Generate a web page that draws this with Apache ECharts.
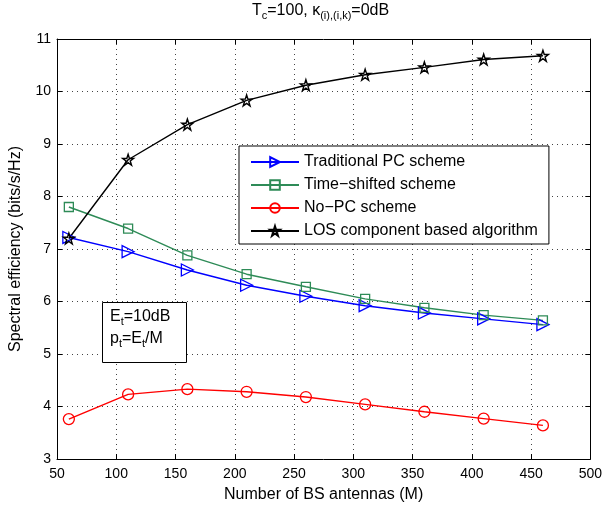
<!DOCTYPE html>
<html>
<head>
<meta charset="utf-8">
<script src="https://cdn.jsdelivr.net/npm/echarts@6/dist/echarts.min.js"></script>
<style>html,body{margin:0;padding:0;background:#fff}#c{width:605px;height:508px}</style>
</head>
<body>
<div id="c"></div>
<script>
const antennas = [60, 110, 160, 210, 260, 310, 360, 410, 460];
const traditionalPC = [7.22, 6.95, 6.60, 6.31, 6.10, 5.92, 5.78, 5.67, 5.56];
const timeShifted = [7.80, 7.39, 6.88, 6.52, 6.28, 6.05, 5.88, 5.74, 5.64];
const noPC = [3.76, 4.23, 4.33, 4.28, 4.18, 4.04, 3.90, 3.77, 3.64];
const losBased = [7.20, 8.70, 9.37, 9.83, 10.12, 10.32, 10.46, 10.61, 10.68];
const seriesNames = ['Traditional PC scheme', 'Time\u2212shifted scheme', 'No\u2212PC scheme', 'LOS component based algorithm'];
const xTicks = {min: 50, max: 500, step: 50};
const yTicks = {min: 3, max: 11, step: 1};

const FONT = '"Liberation Sans", Arial, Helvetica, sans-serif';
const star = 'path://M50,0 L61.8,35.4 L99,35.4 L69,57.3 L80.4,92.7 L50,70.8 L19.6,92.7 L31,57.3 L1,35.4 L38.2,35.4 Z';

function pairs(ys){ return antennas.map((x,i)=>[x, ys[i]]); }

const chart = echarts.init(document.getElementById('c'), null, {renderer:'canvas'});
const axisCommon = {
  axisLine: {show: true, onZero: false, lineStyle: {color: '#000', width: 1}},
  axisTick: {show: true, inside: true, length: 5, lineStyle: {color: '#000'}},
};
const subRich = {sub: {fontSize: 11, fontFamily: FONT, padding: [9,0,0,0]}};
chart.setOption({
  backgroundColor: '#fff',
  animation: false,
  textStyle: {fontFamily: FONT},
  grid: {left: 56, right: 14, top: 39, bottom: 47, show: false},
  xAxis: [
    Object.assign({}, axisCommon, {
      type: 'value', min: xTicks.min, max: xTicks.max, interval: xTicks.step, position: 'bottom',
      axisLabel: {color: '#000', fontSize: 14, fontFamily: FONT, margin: 8},
      splitLine: {show: true, lineStyle: {color: '#444', type: [1, 4], width: 1}},
      name: 'Number of BS antennas (M)', nameLocation: 'middle', nameGap: 28,
      nameTextStyle: {color: '#000', fontSize: 16, fontFamily: FONT}
    }),
    Object.assign({}, axisCommon, {
      type: 'value', min: xTicks.min, max: xTicks.max, interval: xTicks.step, position: 'top',
      axisLabel: {show: false}, splitLine: {show: false}
    })
  ],
  yAxis: [
    Object.assign({}, axisCommon, {
      type: 'value', min: yTicks.min, max: yTicks.max, interval: yTicks.step, position: 'left',
      axisLabel: {color: '#000', fontSize: 14, fontFamily: FONT, margin: 6},
      splitLine: {show: true, lineStyle: {color: '#444', type: [1, 4], width: 1}},
      name: 'Spectral efficiency (bits/s/Hz)', nameLocation: 'middle', nameGap: 33,
      nameTextStyle: {color: '#000', fontSize: 16, fontFamily: FONT}
    }),
    Object.assign({}, axisCommon, {
      type: 'value', min: yTicks.min, max: yTicks.max, interval: yTicks.step, position: 'right',
      axisLabel: {show: false}, splitLine: {show: false}
    })
  ],
  legend: {
    orient: 'vertical', left: 239, top: 146,
    backgroundColor: '#fff', borderColor: '#000', borderWidth: 1,
    padding: [8, 11, 5, 11],
    itemWidth: 48, itemHeight: 12, itemGap: 7,
    textStyle: {color: '#000', fontSize: 16, fontFamily: FONT},
    data: seriesNames
  },
  graphic: [
    {type: 'text', left: 252, top: 3, z: 100,
     style: {text: 'T{sub|c}=100, \u03ba{sub|(i),(i,k)}=0dB', font: '16px ' + FONT, fill: '#000', rich: subRich}},
    {type: 'rect', shape: {x: 102.5, y: 302.5, width: 84, height: 60}, z: 50,
     style: {fill: '#fff', stroke: '#000', lineWidth: 1}},
    {type: 'text', x: 110, y: 307, z: 60,
     style: {text: 'E{sub|t}=10dB', font: '16px ' + FONT, fill: '#000', rich: subRich}},
    {type: 'text', x: 110, y: 329, z: 60,
     style: {text: 'p{sub|t}=E{sub|t}/M', font: '16px ' + FONT, fill: '#000', rich: subRich}}
  ],
  series: [
    {name: seriesNames[0], type: 'line', data: pairs(traditionalPC),
     symbol: 'triangle', symbolSize: 12, symbolRotate: -90,
     lineStyle: {color: '#0000ff', width: 1.4},
     itemStyle: {color: 'rgba(255,255,255,0)', borderColor: '#0000ff', borderWidth: 1.3}},
    {name: seriesNames[1], type: 'line', data: pairs(timeShifted),
     symbol: 'rect', symbolSize: 9,
     lineStyle: {color: '#2e8b57', width: 1.4},
     itemStyle: {color: 'rgba(255,255,255,0)', borderColor: '#2e8b57', borderWidth: 1.3}},
    {name: seriesNames[2], type: 'line', data: pairs(noPC),
     symbol: 'circle', symbolSize: 11,
     lineStyle: {color: '#ff0000', width: 1.4},
     itemStyle: {color: 'rgba(255,255,255,0)', borderColor: '#ff0000', borderWidth: 1.3}},
    {name: seriesNames[3], type: 'line', data: pairs(losBased),
     symbol: star, symbolSize: 11,
     lineStyle: {color: '#000', width: 1.4},
     itemStyle: {color: 'rgba(255,255,255,0)', borderColor: '#000', borderWidth: 1.4}}
  ]
});
</script>
</body>
</html>
